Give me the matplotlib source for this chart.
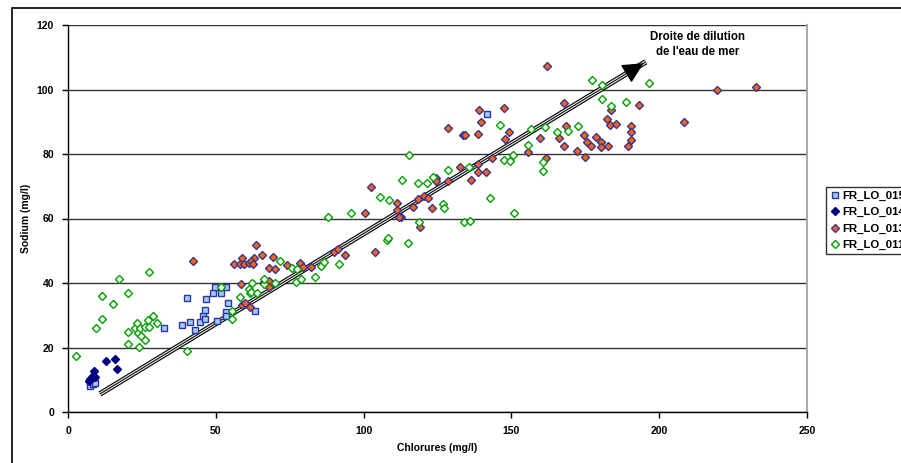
import matplotlib
matplotlib.use("Agg")
import matplotlib.pyplot as plt
from matplotlib.patches import Rectangle

plt.rcParams['font.family'] = ['Liberation Sans', 'DejaVu Sans']

# FR_LO_015 (light blue squares)
x015 = [7.3, 7.5, 8.0, 8.3, 8.8, 9.0, 32.4, 38.5, 40.3, 41.3, 43.0, 44.8, 45.6, 46.3, 46.5,
        46.7, 49.2, 49.8, 50.4, 51.8, 53.4, 53.4, 53.4, 54.2, 63.3, 141.6]
y015 = [9.0, 8.2, 9.6, 8.6, 10.0, 9.0, 26.0, 27.1, 35.2, 27.8, 25.4, 27.9, 29.8, 31.6, 28.7,
        35.0, 37.0, 38.9, 28.2, 36.8, 38.9, 30.9, 29.8, 33.7, 31.3, 92.5]

# FR_LO_014 (navy diamonds)
x014 = [12.8, 15.8, 16.6, 8.9, 8.0, 7.5, 8.5, 7.2, 8.2, 9.2]
y014 = [15.7, 16.5, 13.3, 12.7, 10.9, 10.2, 11.3, 9.5, 10.5, 11.0]

# FR_LO_013 (orange diamonds)
x013 = [63.5, 42.2, 58.8, 62.8, 65.6, 69.2, 56.0, 58.3, 59.7, 61.1, 61.9, 62.6, 67.9, 70.1,
        74.1, 78.6, 79.5, 58.6, 66.2, 67.9, 67.9, 58.8, 60.0, 61.7, 82.3, 89.9, 91.2, 93.8,
        103.8, 128.6, 133.6, 134.2, 139.6, 138.6, 149.3, 147.8, 159.6, 168.6, 166.2, 167.8,
        174.6, 178.5, 175.7, 176.8, 180.2, 180.2, 182.7, 183.4, 185.5, 190.4, 190.4, 190.4,
        189.5, 172.3, 174.9, 155.5, 161.6, 143.5, 138.8, 132.5, 138.7, 141.4, 124.6, 124.6,
        128.6, 136.5, 118.5, 120.6, 121.7, 116.6, 123.3, 112.5, 119.0, 219.7, 232.6, 193.3,
        183.6, 182.5, 208.4, 102.4, 100.4, 111.3, 111.3, 111.9, 161.9, 147.4, 138.9, 167.7]
y013 = [51.8, 46.7, 47.8, 47.8, 48.7, 48.1, 45.8, 45.8, 45.8, 46.3, 46.9, 45.8, 44.6, 44.2,
        45.6, 46.3, 45.1, 39.6, 40.2, 40.7, 38.9, 33.2, 33.9, 32.7, 45.1, 49.5, 50.4, 48.7,
        49.7, 88.0, 85.9, 85.9, 89.8, 86.2, 86.9, 84.7, 85.1, 88.8, 85.1, 82.6, 85.9, 85.4,
        83.6, 82.6, 83.6, 82.1, 82.6, 89.0, 89.3, 88.7, 86.9, 84.3, 82.6, 81.0, 79.0, 80.5,
        78.8, 78.9, 76.8, 75.9, 74.5, 74.5, 72.5, 71.7, 71.7, 71.9, 65.9, 67.0, 66.3, 63.7,
        63.2, 60.6, 57.5, 99.8, 100.9, 95.1, 93.6, 90.9, 89.8, 69.9, 61.8, 64.9, 62.6, 60.6,
        107.3, 94.3, 93.6, 95.8]

# FR_LO_011 (green open diamonds)
x011 = [2.6, 9.5, 11.6, 11.5, 15.3, 17.2, 20.4, 27.5, 20.4, 20.4, 23.9, 22.7, 23.5, 23.8,
        24.4, 24.7, 26.1, 26.1, 27.2, 27.5, 28.7, 30.0, 40.3, 51.8, 55.4, 55.4, 58.3, 61.3,
        61.7, 62.0, 62.2, 63.9, 66.2, 66.4, 70.1, 71.8, 75.8, 77.1, 77.5, 78.8, 83.7, 85.6,
        86.7, 91.8, 108.0, 114.9, 115.5, 146.1, 156.5, 161.2, 165.5, 169.3, 172.5, 155.5,
        150.5, 147.5, 149.5, 160.7, 160.7, 113.0, 128.6, 135.6, 123.4, 118.5, 121.5, 142.7,
        126.8, 127.3, 151.0, 118.6, 133.8, 136.0, 196.6, 180.6, 180.6, 183.6, 188.6, 88.0,
        95.8, 105.5, 108.6, 108.3, 177.2]
y011 = [17.4, 26.1, 28.8, 36.0, 33.4, 41.3, 37.0, 43.5, 24.9, 21.1, 20.3, 26.0, 27.5, 24.4,
        26.0, 23.6, 22.3, 26.3, 28.5, 26.3, 29.8, 27.7, 19.0, 38.9, 31.4, 28.8, 35.8, 38.1,
        36.8, 37.3, 39.9, 36.8, 39.7, 41.2, 40.1, 46.8, 44.8, 40.2, 44.3, 41.2, 41.8, 45.3,
        46.4, 45.8, 53.3, 52.3, 79.8, 89.0, 87.8, 88.5, 86.9, 87.2, 88.8, 82.8, 79.8, 78.0,
        77.7, 77.4, 74.8, 71.9, 75.0, 76.1, 72.8, 70.9, 70.9, 66.3, 64.5, 63.3, 61.8, 59.0,
        59.0, 59.3, 101.9, 101.4, 97.0, 94.9, 96.2, 60.6, 61.8, 66.7, 65.8, 54.0, 102.9]

# dilution line end points (data units)
line_x = [10.8, 195.5]
line_y = [5.6, 108.6]

W, H = 901, 463
fig = plt.figure(figsize=(W / 100, H / 100), dpi=100)
ax = fig.add_axes([68 / W, 1 - 412 / H, (807 - 68) / W, (412 - 25) / H])

ax.set_xlim(0, 250)
ax.set_ylim(0, 120)
ax.set_xticks([0, 50, 100, 150, 200, 250])
ax.set_yticks([0, 20, 40, 60, 80, 100, 120])
ax.yaxis.grid(True, color='#333333', lw=1.0)
ax.set_axisbelow(True)
for s in ['left', 'bottom']:
    ax.spines[s].set_color('black')
    ax.spines[s].set_linewidth(1.0)
ax.spines['top'].set_visible(False)
ax.spines['right'].set_color('#aaaaaa')
ax.spines['right'].set_linewidth(1.5)
ax.tick_params(axis='both', direction='out', length=4, width=1, labelsize=7.5,
               pad=6)
for lab in ax.get_xticklabels() + ax.get_yticklabels():
    lab.set_fontweight('bold')

ax.set_xlabel('Chlorures (mg/l)', fontsize=7.5, fontweight='bold', labelpad=5)
ax.set_ylabel('Sodium (mg/l)', fontsize=7.5, fontweight='bold', labelpad=4)

# dilution line drawn as a double line with arrowhead
ax.plot(line_x, line_y, color='black', lw=4.0, solid_capstyle='butt', zorder=2)
ax.plot(line_x, line_y, color='#e0e0e0', lw=2.4, solid_capstyle='butt', zorder=2)
ax.plot(line_x, line_y, color='black', lw=0.7, solid_capstyle='butt', zorder=2)
ax.annotate('', xy=(line_x[1], line_y[1]), xytext=(190.5, 105.8),
            arrowprops=dict(arrowstyle='-|>,head_length=1.3,head_width=0.65',
                            color='black', lw=1), zorder=3)

ms_d = 3.8
ax.plot(x015, y015, ls='none', marker='s', ms=4.8, mfc='#99CCFF', mec='#333399', mew=1,
        label='FR_LO_015', zorder=4)
ax.plot(x014, y014, ls='none', marker='D', ms=ms_d, mfc='#000080', mec='#000080', mew=1,
        label='FR_LO_014', zorder=4)
ax.plot(x013, y013, ls='none', marker='D', ms=ms_d, mfc='#FF6600', mec='#333399', mew=1,
        label='FR_LO_013', zorder=4)
ax.plot(x011, y011, ls='none', marker='D', ms=ms_d, mfc='white', mec='#00A000', mew=1,
        label='FR_LO_011', zorder=4)

ax.text(213, 114.0, "Droite de dilution\nde l'eau de mer", ha='center', va='center',
        fontsize=8.3, fontweight='bold', linespacing=1.35)

# legend sits at the right edge and is partly cut off, as in the reference
leg = fig.legend(loc='upper left', bbox_to_anchor=(826 / W, 1 - 187 / H),
                 frameon=True, fancybox=False, edgecolor='black', fontsize=8.2,
                 handlelength=0.8, handletextpad=0.3, borderpad=0.35, labelspacing=0.55,
                 borderaxespad=0)
leg.get_frame().set_linewidth(1)
for t in leg.get_texts():
    t.set_fontweight('bold')

# outer chart border
fig.patches.append(Rectangle((12 / W, -0.05), 1.1, 1 - 8 / H + 0.05, transform=fig.transFigure,
                             fill=False, edgecolor='black', lw=1.2, zorder=0))

fig.savefig('out.png', dpi=100)
